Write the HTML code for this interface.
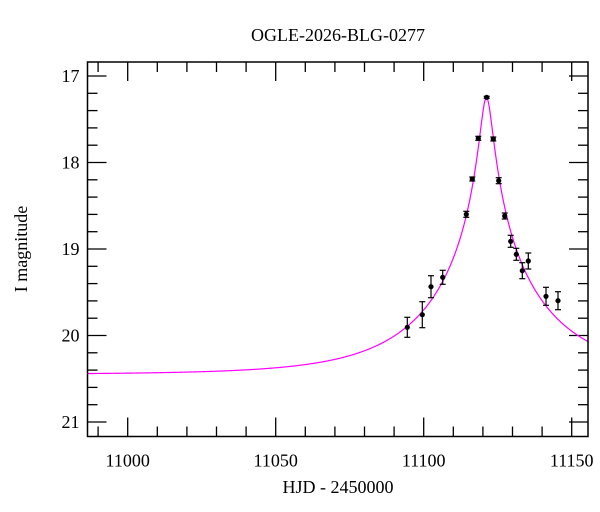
<!DOCTYPE html>
<html><head><meta charset="utf-8"><style>
html,body{margin:0;padding:0;background:#fff;}
svg{display:block;font-family:"Liberation Serif","DejaVu Serif",serif;}
</style></head><body>
<svg id="s" width="600" height="512" viewBox="0 0 600 512" xmlns="http://www.w3.org/2000/svg">
<rect width="600" height="512" fill="#fff"/>
<text x="338" y="41" font-size="18" text-anchor="middle" fill="#000">OGLE-2026-BLG-0277</text>
<text x="338" y="493" font-size="18" text-anchor="middle" fill="#000">HJD - 2450000</text>
<text transform="translate(27,249) rotate(-90)" font-size="18" text-anchor="middle" fill="#000">I magnitude</text>
<g id="ax" stroke="#000" stroke-width="1.3" fill="none"></g>
<g id="lab" font-size="18" fill="#000"></g>
<path id="curve" fill="none" stroke="#ff00ff" stroke-width="1.2"/>
<g id="pts"></g>
<rect x="87.5" y="62" width="500.5" height="374.5" fill="none" stroke="#000" stroke-width="1.5"/>
</svg>
<script>
var L=87.5,R=588,T=62,B=436.5;
function X(t){return 127.7+(t-11000)*2.96;}
function Y(m){return 76+(m-17)*86.5;}
var ax=document.getElementById('ax'),lab=document.getElementById('lab'),h='',lh='';
for(var t=10990;t<=11150;t+=10){var x=X(t),len=(t%50==0)?19:10;
h+='<line x1="'+x+'" y1="'+B+'" x2="'+x+'" y2="'+(B-len)+'"/><line x1="'+x+'" y1="'+T+'" x2="'+x+'" y2="'+(T+len)+'"/>';
if(t%50==0)lh+='<text x="'+x+'" y="'+(B+30)+'" text-anchor="middle">'+t+'</text>';}
for(var i=0;i<=21;i++){var m=17+i*0.2,y=Y(m);if(y>B)break;var maj=(i%5==0),len=maj?19:10;
h+='<line x1="'+L+'" y1="'+y+'" x2="'+(L+len)+'" y2="'+y+'"/><line x1="'+R+'" y1="'+y+'" x2="'+(R-len)+'" y2="'+y+'"/>';
if(maj)lh+='<text x="'+(L-8)+'" y="'+(y+6)+'" text-anchor="end">'+Math.round(m)+'</text>';}
ax.innerHTML=h;lab.innerHTML=lh;
var t0=11121.2,u0=0.0525,tE=38,base=20.45,d='';
for(var px=L;px<=R;px+=0.5){var t=11000+(px-127.7)/2.96,tau=(t-t0)/tE,u=Math.sqrt(u0*u0+tau*tau),A=(u*u+2)/(u*Math.sqrt(u*u+4)),m=base-2.5*Math.log10(A);
d+=(d?'L':'M')+px.toFixed(1)+' '+Y(m).toFixed(2);}
document.getElementById('curve').setAttribute('d',d);
var P=[[407.3,327.3,10],[422.3,314.7,13],[431,286.7,11],[442.7,277.3,7],[466.3,214.3,3],[472.3,179,2],[478.3,138.3,2],[486.7,97.3,1],[493.3,139,2],[498.7,180.7,3],[504.7,216,3],[510.7,241.3,6],[516.3,254.3,6],[522.3,270.7,8],[528.3,261,8],[546,296.3,9],[558,300.7,9]],g='';
P.forEach(function(p){var x=p[0],y=p[1],e=p[2];
g+='<g stroke="#000" stroke-width="1.2"><line x1="'+x+'" y1="'+(y-e)+'" x2="'+x+'" y2="'+(y+e)+'"/><line x1="'+(x-3)+'" y1="'+(y-e)+'" x2="'+(x+3)+'" y2="'+(y-e)+'"/><line x1="'+(x-3)+'" y1="'+(y+e)+'" x2="'+(x+3)+'" y2="'+(y+e)+'"/></g><circle cx="'+x+'" cy="'+y+'" r="2.6" fill="#000"/>';});
document.getElementById('pts').innerHTML=g;
</script>
</body></html>
